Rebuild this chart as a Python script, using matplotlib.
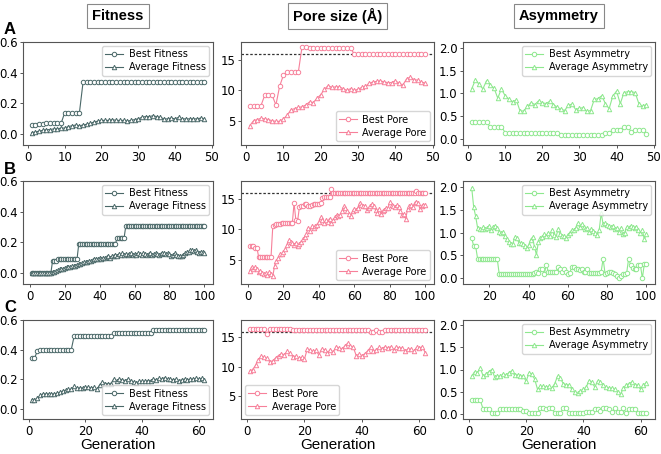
import numpy as np
import matplotlib
matplotlib.use("Agg")
import matplotlib.pyplot as plt

# ---- data ----
best_fit_A = [0.06, 0.06, 0.065, 0.065, 0.07, 0.07, 0.07, 0.07, 0.07] + [0.14] * 5 + [0.34] * 34
avg_fit_A = [0.01, 0.015, 0.02, 0.025, 0.03, 0.03, 0.035, 0.035, 0.04, 0.04,
             0.05, 0.055, 0.06, 0.055, 0.06, 0.065, 0.07, 0.08, 0.085, 0.09,
             0.09, 0.09, 0.095, 0.09, 0.09, 0.09, 0.085, 0.09, 0.095, 0.1,
             0.11, 0.115, 0.115, 0.12, 0.115, 0.11, 0.1, 0.1, 0.105, 0.1,
             0.11, 0.1, 0.1, 0.1, 0.1, 0.1, 0.105, 0.1]
best_pore_A = [7.5] * 4 + [9.2] * 3 + [7.6, 10.7, 12.5] + [13.0] * 4 + [17.2] * 2 + [17.0] * 12 + [16.0] * 20
avg_pore_A = [4.2, 5.0, 5.2, 5.4, 5.3, 5.2, 5.0, 4.9, 4.9, 5.3,
              5.9, 6.8, 7.0, 7.2, 7.3, 7.6, 8.1, 8.0, 8.7, 9.3,
              10.2, 10.8, 10.5, 10.6, 10.6, 10.3, 10.0, 10.3, 10.0, 10.2,
              10.5, 10.7, 11.2, 11.4, 11.5, 11.6, 11.4, 11.3, 11.3, 11.6,
              11.2, 10.9, 11.9, 12.2, 11.8, 11.7, 11.4, 11.2]
best_asym_A = [0.37] * 5 + [0.28] * 4 + [0.15, 0.15, 0.15, 0.15, 0.15, 0.15, 0.15, 0.14, 0.14, 0.14,
               0.15, 0.15, 0.15, 0.15, 0.15] + [0.09] * 12 + [0.15, 0.15, 0.2, 0.2, 0.2, 0.28, 0.28,
               0.16, 0.2, 0.2, 0.2, 0.11]
avg_asym_A = [1.1, 1.3, 1.2, 1.1, 1.28, 1.18, 1.12, 0.9, 1.1, 0.95,
              0.88, 0.82, 0.86, 0.62, 0.62, 0.72, 0.8, 0.76, 0.84, 0.8,
              0.78, 0.83, 0.76, 0.7, 0.66, 0.63, 0.74, 0.77, 0.65, 0.68,
              0.69, 0.61, 0.63, 0.87, 0.89, 0.95, 0.78, 0.67, 0.95, 1.05,
              0.78, 1.02, 1.04, 1.04, 1.02, 0.78, 0.72, 0.76]

best_fit_B = [0.0] * 12 + [0.08] * 3 + [0.09] * 12 + [0.19] * 22 + [0.23] * 5 + [0.31] * 46
avg_fit_B = [0.0, 0.0, 0.0, 0.0, 0.0, 0.0, 0.0, 0.0, 0.0, 0.0,
             0.0, 0.0, 0.005, 0.01, 0.015, 0.02, 0.025, 0.03, 0.03, 0.035,
             0.04, 0.04, 0.04, 0.045, 0.045, 0.05, 0.055, 0.06, 0.06, 0.065,
             0.07, 0.07, 0.075, 0.08, 0.08, 0.085, 0.09, 0.095, 0.095, 0.1,
             0.095, 0.1, 0.1, 0.105, 0.11, 0.1, 0.11, 0.115, 0.12, 0.115,
             0.125, 0.12, 0.13, 0.12, 0.125, 0.12, 0.125, 0.13, 0.12, 0.125,
             0.12, 0.13, 0.125, 0.12, 0.13, 0.125, 0.12, 0.125, 0.13, 0.12,
             0.125, 0.13, 0.125, 0.12, 0.125, 0.13, 0.13, 0.125, 0.13, 0.125,
             0.115, 0.12, 0.13, 0.12, 0.11, 0.115, 0.11, 0.12, 0.13, 0.135,
             0.14, 0.15, 0.15, 0.145, 0.15, 0.14, 0.13, 0.14, 0.135, 0.13]
best_pore_B = ([7.3, 7.3, 7.2, 7.0, 7.0] + [5.5] * 8 + [10.6, 10.7, 10.9, 10.9, 10.9] + [11.0] * 7
               + [14.4, 11.5, 11.4, 13.7, 13.8, 13.8, 14.2, 14.2, 13.8, 13.8, 14.1, 14.2, 14.2, 14.2, 14.2, 14.3]
               + [15.2, 15.3, 15.3, 15.3, 15.3, 16.7] + [16.1] * 47 + [16.3] + [16.1] * 5)
avg_pore_B = [3.2, 3.8, 3.4, 3.8, 3.5, 3.0, 3.2, 2.8, 2.6, 2.8,
              2.5, 2.9, 2.7, 2.3, 4.0, 4.8, 5.3, 5.9, 6.0, 6.2,
              6.7, 7.5, 8.2, 8.0, 7.8, 7.5, 7.8, 7.2, 7.6, 8.0,
              8.4, 8.8, 9.3, 10.3, 9.8, 10.5, 10.2, 10.6, 10.8, 11.3,
              12.0, 11.5, 11.0, 11.6, 11.3, 11.8, 11.0, 11.5, 12.0, 12.4,
              12.2, 12.4, 13.0, 13.8, 13.5, 13.0, 12.6, 12.3, 13.0, 13.4,
              13.2, 13.6, 14.4, 14.0, 13.8, 13.9, 13.2, 13.6, 13.8, 14.2,
              13.8, 13.2, 12.8, 13.4, 12.6, 13.0, 13.2, 13.6, 13.6, 14.5,
              14.0, 13.8, 13.7, 14.0, 13.7, 13.0, 12.4, 12.6, 11.8, 13.3,
              13.8, 14.0, 13.7, 14.3, 14.6, 14.4, 13.4, 13.8, 14.1, 14.0]
gen_asym_B_start = 11
best_asym_B = ([0.88, 0.7, 0.7] + [0.43] * 11 + [0.1] * 18
               + [0.12, 0.15, 0.12, 0.2, 0.2, 0.1, 0.3, 0.15, 0.15, 0.15,
                  0.15, 0.15, 0.25, 0.2, 0.15, 0.2, 0.15, 0.1, 0.12, 0.25,
                  0.25, 0.2, 0.2, 0.18, 0.2, 0.15, 0.15, 0.2, 0.12, 0.12,
                  0.12, 0.12, 0.12, 0.12, 0.15, 0.43, 0.1, 0.12, 0.15, 0.15,
                  0.12, 0.1, 0.05, 0.0, 0.05, 0.1, 0.1, 0.12, 0.43, 0.3,
                  0.22, 0.2, 0.2, 0.3, 0.3, 0.0, 0.32, 0.32])
avg_asym_B = [1.97, 1.55, 1.35, 1.1, 1.07, 1.07, 1.12, 1.08, 1.1, 1.15,
              1.05, 1.13, 1.15, 1.1, 1.02, 0.98, 1.02, 0.92, 0.85, 0.8,
              0.76, 0.76, 0.9, 0.88, 0.78, 0.78, 0.76, 0.7, 0.66, 0.72,
              0.84, 0.9, 0.68, 0.52, 0.8, 0.88, 0.9, 0.96, 0.92, 1.0,
              0.93, 1.05, 0.95, 0.9, 1.07, 0.96, 0.92, 0.92, 0.88, 0.95, 1.0, 1.05,
              1.05, 1.1, 1.2, 1.12, 1.18, 1.12, 1.08, 1.1, 1.02, 1.08,
              1.04, 1.0, 0.95, 1.05, 1.42, 1.18, 1.2, 1.16, 1.14, 1.12,
              1.15, 1.08, 1.1, 1.02, 1.1, 0.96, 1.0, 1.12, 1.1, 1.15,
              1.12, 1.1, 1.12, 1.05, 1.0, 1.05, 0.85, 0.97]

best_fit_C = [0.34, 0.34, 0.39] + [0.40] * 12 + [0.49] * 14 + [0.51] * 14 + [0.53] * 19
avg_fit_C = [0.06, 0.06, 0.07, 0.09, 0.1, 0.1, 0.1, 0.1, 0.1, 0.105,
             0.11, 0.12, 0.125, 0.13, 0.13, 0.15, 0.14, 0.14, 0.14, 0.145,
             0.145, 0.14, 0.145, 0.13, 0.16, 0.18, 0.17, 0.17, 0.17, 0.2,
             0.19, 0.2, 0.195, 0.19, 0.2, 0.19, 0.18, 0.175, 0.185, 0.185,
             0.185, 0.19, 0.19, 0.2, 0.195, 0.205, 0.2, 0.21, 0.2, 0.2,
             0.195, 0.2, 0.19, 0.195, 0.2, 0.195, 0.2, 0.2, 0.205, 0.2,
             0.205, 0.195]
best_pore_C = [16.5] * 6 + [15.6] + [16.5] * 8 + [16.2] * 27 + [15.9, 15.9, 16.2, 15.9, 16.0] + [16.2] * 15
avg_pore_C = [9.2, 9.5, 10.2, 11.2, 11.8, 11.6, 11.4, 10.8, 11.0, 11.5,
              11.9, 12.2, 12.0, 12.6, 12.3, 11.7, 11.8, 11.4, 11.6, 11.3,
              13.0, 12.8, 12.6, 12.8, 12.0, 13.0, 12.9, 12.4, 12.9, 12.5,
              13.4, 13.2, 13.0, 13.5, 14.0, 13.5, 13.3, 11.9, 12.1, 11.9,
              12.2, 12.7, 13.3, 12.6, 12.9, 13.3, 13.1, 13.4, 13.2, 13.4,
              12.9, 13.4, 13.2, 13.2, 12.7, 13.0, 13.0, 12.6, 13.3, 13.2,
              13.4, 12.4]
best_asym_C = [0.32, 0.32, 0.32, 0.3, 0.1, 0.1, 0.1, 0.02, 0.02, 0.02,
               0.1, 0.1, 0.1, 0.1, 0.1, 0.1, 0.1, 0.1, 0.07, 0.07,
               0.02, 0.02, 0.02, 0.02, 0.12, 0.12, 0.1, 0.12, 0.12, 0.02,
               0.02, 0.02, 0.12, 0.12, 0.02, 0.02, 0.02, 0.02, 0.02, 0.02,
               0.03, 0.03, 0.03, 0.1, 0.1, 0.05, 0.12, 0.12, 0.1, 0.03,
               0.13, 0.03, 0.03, 0.12, 0.02, 0.1, 0.1, 0.1, 0.02, 0.02,
               0.02, 0.02]
avg_asym_C = [0.85, 0.95, 0.93, 1.03, 0.85, 0.9, 0.95, 1.0, 0.83, 0.85,
              0.85, 0.9, 0.87, 0.93, 0.97, 0.87, 0.88, 0.85, 0.86, 0.73,
              0.92, 0.9, 0.78, 0.55, 0.62, 0.62, 0.6, 0.62, 0.58, 0.68,
              0.85, 0.8, 0.68, 0.66, 0.65, 0.55, 0.48, 0.46, 0.52, 0.55,
              0.6, 0.75, 0.72, 0.6, 0.74, 0.72, 0.65, 0.6, 0.58, 0.58,
              0.55, 0.5, 0.44, 0.58, 0.65, 0.68, 0.72, 0.65, 0.65, 0.55,
              0.65, 0.7]

target_pore = 16.0

fit_col = '#4a6868'
pore_col = '#f7809a'
asym_col = '#8ee88e'

fig = plt.figure(figsize=(6.61, 4.54), dpi=100)

W, H = 661.0, 454.0
cols = [(23, 213), (241, 434), (463, 655)]
rows = [(42, 145), (181, 284), (320, 419)]
xtick_sets = [[0, 10, 20, 30, 40, 50], [0, 20, 40, 60, 80, 100], [0, 20, 40, 60]]


def make_ax(r, c):
    x0, x1 = cols[c]
    y0, y1 = rows[r]
    ax = fig.add_axes([x0 / W, 1 - y1 / H, (x1 - x0) / W, (y1 - y0) / H])
    for s in ax.spines.values():
        s.set_color('#555555')
        s.set_linewidth(0.8)
    ax.tick_params(labelsize=8.5, length=2.5, width=0.7, color='#555555', pad=1.5)
    return ax


def draw(ax, x1, y1, x2, y2, col, lab1, lab2, loc):
    ax.plot(x1, y1, '-o', color=col, lw=0.8, ms=3.2, mfc='white', mec=col, mew=0.7, label=lab1)
    ax.plot(x2, y2, '-^', color=col, lw=0.8, ms=3.2, mfc='white', mec=col, mew=0.7, label=lab2)
    ax.legend(loc=loc, fontsize=7, frameon=True, edgecolor='#cccccc', fancybox=True,
              handlelength=1.8, borderpad=0.35, labelspacing=0.3, handletextpad=0.6,
              borderaxespad=0.4)


sets = [
    (best_fit_A, avg_fit_A, best_pore_A, avg_pore_A, best_asym_A, avg_asym_A, 1),
    (best_fit_B, avg_fit_B, best_pore_B, avg_pore_B, best_asym_B, avg_asym_B, gen_asym_B_start),
    (best_fit_C, avg_fit_C, best_pore_C, avg_pore_C, best_asym_C, avg_asym_C, 1),
]
fit_loc = ['upper right', 'upper right', 'lower right']
pore_loc = ['lower right', 'lower right', 'lower left']

for r, (bf, af, bp, ap, ba, aa, a0) in enumerate(sets):
    g = np.arange(1, len(bf) + 1)
    ax = make_ax(r, 0)
    draw(ax, g, bf, g, af, fit_col, 'Best Fitness', 'Average Fitness', fit_loc[r])
    ax.set_ylim(-0.07, 0.6)
    ax.set_yticks([0.0, 0.2, 0.4, 0.6])
    ax.set_xticks(xtick_sets[r])

    ax = make_ax(r, 1)
    ax.axhline(target_pore, color='#333333', ls='--', lw=0.9, dashes=(2, 1.5), zorder=0)
    draw(ax, g, bp, g, ap, pore_col, 'Best Pore', 'Average Pore', pore_loc[r])
    ax.set_ylim(1, 18)
    ax.set_yticks([5, 10, 15])
    ax.set_xticks(xtick_sets[r])

    ga = np.arange(a0, a0 + len(ba))
    ax = make_ax(r, 2)
    draw(ax, ga, ba, ga, aa, asym_col, 'Best Asymmetry', 'Average Asymmetry', 'upper right')
    ax.set_ylim(-0.12, 2.12)
    ax.set_yticks([0.0, 0.5, 1.0, 1.5, 2.0])
    ax.set_xticks([t for t in xtick_sets[r] if t >= a0 or r != 1])

for ax in fig.axes[-3:]:
    ax.set_xlabel('Generation', fontsize=11, family='Liberation Sans', labelpad=0.5)

for i, lab in enumerate(['A', 'B', 'C']):
    fig.text(4 / W, 1 - (rows[i][0] - 12) / H, lab, fontsize=12, fontweight='bold',
             family='Liberation Sans', va='center', ha='left')

for (x0, x1), t in zip(cols, ['Fitness', 'Pore size (Å)', 'Asymmetry']):
    fig.text((x0 + x1) / 2 / W, 1 - 16 / H, t, fontsize=10.5, fontweight='bold',
             family='Liberation Sans', ha='center', va='center',
             bbox=dict(boxstyle='square,pad=0.35', fc='white', ec='#888888', lw=0.8))

fig.savefig('out.png', dpi=100)
